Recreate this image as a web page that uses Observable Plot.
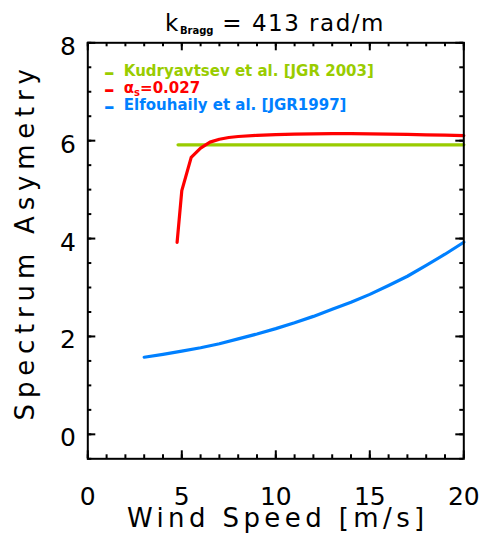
<!DOCTYPE html>
<html><head><meta charset="utf-8">
<script src="https://cdn.jsdelivr.net/npm/d3@7"></script>
<script src="https://cdn.jsdelivr.net/npm/@observablehq/plot@0.6"></script>
<style>
body{margin:0;background:#fff;}
#wrap{position:relative;width:483px;height:542px;font-family:"DejaVu Sans",sans-serif;overflow:hidden;background:#fff;}
#title{position:absolute;z-index:2;left:87px;width:376px;top:12px;text-align:center;font-size:23px;line-height:23px;letter-spacing:1.5px;white-space:nowrap;color:#000;}
#title sub{font-size:10px;font-weight:bold;vertical-align:-3px;letter-spacing:0;line-height:0;}
#chart{position:absolute;z-index:1;left:0;top:30px;}
</style></head><body>
<div id="wrap"><div id="chart"></div><div id="title">k<sub>Bragg</sub> = 413 rad/m</div></div>
<script>
// ---- data ----
const kudWind = [4.8, 20];
const kudAsym = [5.915, 5.915];

const alphaWind = [4.75, 5.0, 5.5, 6.0, 6.5, 7.0, 7.5, 8, 9, 10, 11, 12, 13, 14, 15, 16, 17, 18, 19, 20];
const alphaAsym = [3.92, 4.98, 5.66, 5.85, 5.97, 6.03, 6.065, 6.085, 6.11, 6.125, 6.135, 6.14, 6.145, 6.145, 6.14, 6.135, 6.13, 6.12, 6.115, 6.105];

const elfWind = [3, 4, 5, 6, 7, 8, 9, 10, 11, 12, 13, 14, 15, 16, 17, 18, 19, 20];
const elfAsym = [1.575, 1.635, 1.70, 1.77, 1.85, 1.95, 2.05, 2.16, 2.28, 2.41, 2.555, 2.70, 2.86, 3.04, 3.23, 3.45, 3.68, 3.925];

const seriesNames = ["Kudryavtsev et al. [JGR 2003]", "α_s=0.027", "Elfouhaily et al. [JGR1997]"];
const seriesColors = ["#99cc00", "#ff0000", "#0080ff"];

const xTicks = [0, 5, 10, 15, 20];
const yTicks = [0, 2, 4, 6, 8];
const xMinor = [0,1,2,3,4,5,6,7,8,9,10,11,12,13,14,15,16,17,18,19,20];
const yMinor = [-0.5,0,0.5,1,1.5,2,2.5,3,3.5,4,4.5,5,5.5,6,6.5,7,7.5,8];
const xTitle = "Wind Speed [m/s]";
const yTitle = "Spectrum Asymetry";

// ---- layout ----
const W = 483, H = 512;
const mL = 87.3, mR = 19.7, mT = 12.3, mB = 83.7;
const fw = W - mL - mR, fh = H - mT - mB;
const majorLen = 8, minorLen = 4;

const kud = kudWind.map((x, i) => ({x, y: kudAsym[i]}));
const alpha = alphaWind.map((x, i) => ({x, y: alphaAsym[i]}));
const elf = elfWind.map((x, i) => ({x, y: elfAsym[i]}));

const tickStyle = {stroke: "black", strokeWidth: 2};

const marks = [
  // minor ticks
  Plot.ruleX(xMinor, {...tickStyle, insetTop: fh - minorLen}),
  Plot.ruleX(xMinor, {...tickStyle, insetBottom: fh - minorLen}),
  Plot.ruleY(yMinor, {...tickStyle, insetRight: fw - minorLen}),
  Plot.ruleY(yMinor, {...tickStyle, insetLeft: fw - minorLen}),
  // major ticks
  Plot.ruleX(xTicks, {...tickStyle, insetTop: fh - majorLen}),
  Plot.ruleX(xTicks, {...tickStyle, insetBottom: fh - majorLen}),
  Plot.ruleY(yTicks, {...tickStyle, insetRight: fw - majorLen}),
  Plot.ruleY(yTicks, {...tickStyle, insetLeft: fw - majorLen}),
  // data
  Plot.line(elf, {x: "x", y: "y", stroke: seriesColors[2], strokeWidth: 3.2}),
  Plot.line(kud, {x: "x", y: "y", stroke: seriesColors[0], strokeWidth: 3.2}),
  Plot.line(alpha, {x: "x", y: "y", stroke: seriesColors[1], strokeWidth: 3.2}),
  Plot.frame({stroke: "black", strokeWidth: 2}),
  // axes
  Plot.axisX(xTicks, {tickSize: 0, tickPadding: 28, fontSize: 25, label: null, fill: "black"}),
  Plot.axisY(yTicks, {tickSize: 0, tickPadding: 12, fontSize: 25, label: null, dy: 4, fill: "black"}),
  Plot.text([xTitle], {frameAnchor: "bottom", textAnchor: "middle", dx: 2, dy: 68, fontSize: 26, fill: "black"}),
  Plot.text([yTitle], {frameAnchor: "left", textAnchor: "middle", dx: -62, dy: -9, rotate: -90, fontSize: 26, fill: "black"}),
  // legend
  ...seriesNames.map((name, i) => Plot.text([name], {frameAnchor: "top-left", textAnchor: "start", dx: 36, dy: 22.7 + i * 16.7, fill: seriesColors[i], fontSize: 15, fontWeight: "bold"})),
  ...seriesNames.map((name, i) => Plot.text(["–"], {frameAnchor: "top-left", textAnchor: "middle", dx: 21.4, dy: 22.7 + i * 16.7, fill: seriesColors[i], fontSize: 21, fontWeight: "bold"}))
];

const chart = Plot.plot({
  width: W, height: H,
  marginLeft: mL, marginRight: mR, marginTop: mT, marginBottom: mB,
  x: {domain: [0, 20], axis: null},
  y: {domain: [-0.5, 8], axis: null},
  style: {fontFamily: "DejaVu Sans", background: "transparent", color: "black", overflow: "visible"},
  marks
});

const svg = d3.select(chart);
svg.selectAll("text").filter(function() { return this.textContent === xTitle; })
  .style("letter-spacing", "4.4px");
svg.selectAll("text").filter(function() { return this.textContent === yTitle; })
  .style("letter-spacing", "5.8px");
svg.selectAll("text").filter(function() { return this.textContent === seriesNames[1]; })
  .each(function() {
    const t = d3.select(this);
    const [base, rest] = seriesNames[1].split("_");
    const sub = rest.slice(0, 1), tail = rest.slice(1);
    t.text(null);
    t.append("tspan").text(base);
    t.append("tspan").attr("font-size", 10).attr("dy", 3).text(sub);
    t.append("tspan").attr("dy", -3).text(tail);
  });

document.getElementById("chart").appendChild(chart);
</script>
</body></html>
